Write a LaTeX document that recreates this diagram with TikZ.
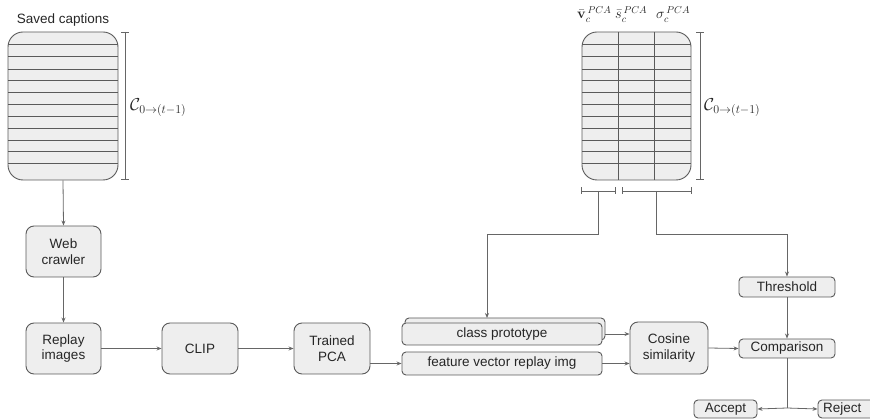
\documentclass[tikz,border=0pt]{standalone}
\usepackage[no-math]{fontspec}
\setmainfont{Liberation Sans}
\usetikzlibrary{arrows.meta}
\definecolor{boxfill}{HTML}{EEEEEE}
\definecolor{boxline}{HTML}{5A5A5A}
\definecolor{wire}{HTML}{666666}

\begin{document}
\begin{tikzpicture}[x=1pt,y=-1pt,
  every node/.style={font=\fontsize{13.5}{15.5}\selectfont, text=black!85},
  box/.style={draw=boxline, fill=boxfill, line width=0.9pt, rounded corners=8pt, inner sep=0pt, align=center},
  tag/.style={box, rounded corners=4pt},
  tablebox/.style={draw=boxline, fill=boxfill, line width=0.9pt, rounded corners=15pt, inner sep=0pt},
  rowline/.style={draw=boxline, line width=0.9pt},
  arr/.style={draw=wire, line width=0.8pt, -{Stealth[length=5pt,width=4pt]}},
  wireline/.style={draw=wire, line width=0.8pt},
  brk/.style={draw=wire, line width=0.9pt},
  mathlbl/.style={font=\fontsize{17}{19}\selectfont, inner sep=0pt},
  headlbl/.style={font=\fontsize{14}{16}\selectfont, inner sep=0pt, anchor=base west},
]
\useasboundingbox (0,0) rectangle (870,419);

% ---------- saved captions table ----------
\node (savedlbl) at (63,20) {Saved captions};
\node[tablebox, minimum width=110pt, minimum height=148pt] (saved) at (63,106) {};
\foreach \yy in {44.3,56.7,69,80.7,92.7,104.3,116,128.3,140,151.7,163.3}
  \draw[rowline] (8,\yy) -- (118,\yy);
% size bracket
\draw[brk] (121,32) -- (129,32) (125,32) -- (125,179) (121,179) -- (129,179);
\node[mathlbl, anchor=west] (clab1) at (130,108) {$\mathcal{C}_{0\rightarrow(t-1)}$};

% ---------- class statistics table ----------
\node[tablebox, minimum width=109pt, minimum height=148pt] (stats) at (636.5,106) {};
\foreach \yy in {44.3,56.7,69,80.7,92.7,104.3,116,128.3,140,151.7,163.3}
  \draw[rowline] (582,\yy) -- (691,\yy);
\draw[rowline] (618,32) -- (618,180) (654,32) -- (654,180);
\node[headlbl] (hv) at (577,19) {$\bar{\mathbf{v}}_c^{\,PCA}$};
\node[headlbl] (hs) at (615,19) {$\bar{s}_c^{\,PCA}$};
\node[headlbl] (hsig) at (656,19) {$\sigma_c^{\,PCA}$};
\draw[brk] (696,32) -- (704,32) (700,32) -- (700,179) (696,179) -- (704,179);
\node[mathlbl, anchor=west] (clab2) at (704,108) {$\mathcal{C}_{0\rightarrow(t-1)}$};
% column-group brackets below the table
\draw[brk] (581,187.5) -- (581,194.5) (581,191) -- (615,191) (615,187.5) -- (615,194.5);
\draw[brk] (622,187.5) -- (622,194.5) (622,191) -- (691,191) (691,187.5) -- (691,194.5);
\coordinate (b1) at (598,191);
\coordinate (b2) at (656,191);
\coordinate (j1) at (598,234);
\coordinate (j2) at (656,234);

% ---------- pipeline ----------
\node[box, minimum width=75pt, minimum height=51pt] (web) at (63.5,251.5) {Web\\crawler};
\node[box, minimum width=75pt, minimum height=51pt] (replay) at (63.5,348.5) {Replay\\images};
\node[box, minimum width=76pt, minimum height=51pt] (clip) at (200,348.5) {CLIP};
\node[box, minimum width=76pt, minimum height=51pt] (pca) at (332,348.5) {Trained\\PCA};

\node[tag, minimum width=200pt, minimum height=22pt] (cpback) at (505,329) {};
\node[tag, minimum width=200pt, minimum height=22pt] (cp) at (502,334) {class prototype};
\node[tag, minimum width=200pt, minimum height=23pt] (fv) at (502,363.5) {feature vector replay img};
\node[box, minimum width=78pt, minimum height=52pt] (cos) at (669,348) {Cosine\\similarity};
\node[tag, minimum width=96pt, minimum height=20pt] (thr) at (787,287) {Threshold};
\node[tag, minimum width=96pt, minimum height=19pt] (cmp) at (787,348.5) {Comparison};
\node[tag, minimum width=63pt, minimum height=18pt] (acc) at (725.5,409) {Accept};
\node[tag, minimum width=62pt, minimum height=18pt, text width=52pt, align=left] (rej) at (849,409) {Reject};
\coordinate (cpin) at (487,318);
\coordinate (split) at (787,408);

% ---------- connectors ----------
\draw[arr] (saved.south) -- (web.north);
\draw[arr] (web.south) -- (replay.north);
\draw[arr] (replay.east) -- (clip.west);
\draw[arr] (clip.east) -- (pca.west);
\draw[arr] (pca.east |- fv.west) -- (fv.west);
\draw[arr] (cpback.east |- cp.east) -- (cos.west |- cp.east);
\draw[arr] (fv.east) -- (cos.west |- fv.east);
\draw[arr] (cos.east) -- (cmp.west);
\draw[arr] (b1) -- (j1) -| (cpin);
\draw[arr] (b2) -- (j2) -| (thr.north);
\draw[arr] (thr.south) -- (cmp.north);
\draw[wireline] (cmp.south) -- (split);
\draw[arr] (split) -- (acc.east);
\draw[arr] (split) -- (rej.west);
\end{tikzpicture}
\end{document}
